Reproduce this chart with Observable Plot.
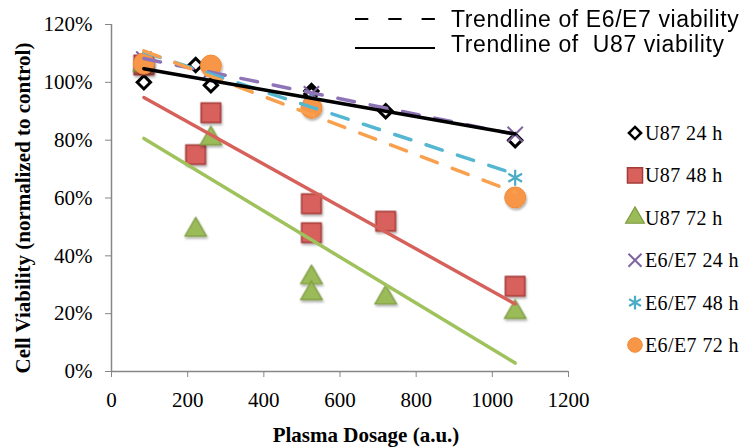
<!DOCTYPE html>
<html><head><meta charset="utf-8">
<script src="https://cdn.jsdelivr.net/npm/d3@7"></script>
<script src="https://cdn.jsdelivr.net/npm/@observablehq/plot@0.6"></script>
<style>body{margin:0;background:#fff}svg{display:block}</style>
</head><body><div id="chart"></div>
<script>
// ---- data ----
const seriesNames = ["U87 24 h", "U87 48 h", "U87 72 h", "E6/E7 24 h", "E6/E7 48 h", "E6/E7 72 h"];
const doseU87  = [85, 221, 261, 525, 525, 720, 1060];
const u87_24h  = [1.00, 1.06, 0.99, 0.97, 0.96, 0.90, 0.80];
const u87_48h  = [1.06, 0.75, 0.895, 0.58, 0.48, 0.52, 0.295];
const u87_72h  = [1.06, 0.49, 0.805, 0.325, 0.27, 0.255, 0.205];
const doseE6E7 = [85, 261, 525, 1060];
const e6e7_24h = [1.08, 1.04, 0.96, 0.82];
const e6e7_48h = [1.07, 1.06, 0.93, 0.67];
const e6e7_72h = [1.065, 1.058, 0.912, 0.602];
const xTicks = [0, 200, 400, 600, 800, 1000, 1200];
const yTicks = [0, 0.2, 0.4, 0.6, 0.8, 1.0, 1.2];
const trendLabels = ["Trendline of E6/E7 viability", "Trendline of  U87 viability"];

const rows = (xs, ys) => xs.map((x, i) => ({x, y: ys[i]}));
const s1 = rows(doseU87, u87_24h), s2 = rows(doseU87, u87_48h), s3 = rows(doseU87, u87_72h);
const s4 = rows(doseE6E7, e6e7_24h), s5 = rows(doseE6E7, e6e7_48h), s6 = rows(doseE6E7, e6e7_72h);

const serif = "'Liberation Serif','Times New Roman',serif";
const sans = "'Liberation Sans',Arial,sans-serif";
const style = [
  {symbol: "diamond2", r: 6, fill: "#fff", stroke: "#000", strokeWidth: 3},
  {symbol: "square", r: 11, fill: "#d8605d", stroke: "#a43b38", strokeWidth: 1.5},
  {symbol: "triangle", r: 8, fill: "#9bbb59", stroke: "#7d9a40", strokeWidth: 1.2},
  {symbol: "times", r: 7, fill: "none", stroke: "#8064a2", strokeWidth: 2},
  {symbol: "asterisk", r: 7.5, fill: "none", stroke: "#4bacc6", strokeWidth: 2.2},
  {symbol: "circle", r: 10.5, fill: "#f79646", stroke: "#f08a38", strokeWidth: 1}
];
const dash = "17,16";

const chart = Plot.plot({
  width: 747, height: 447,
  marginLeft: 111, marginRight: 179, marginTop: 24, marginBottom: 76,
  style: {fontFamily: serif, fontSize: "21px", color: "#000", background: "#fff"},
  x: {domain: [0, 1200]},
  y: {domain: [0, 1.2]},
  marks: [
    Plot.axisX({ticks: xTicks, tickSize: 6, tickPadding: 15, stroke: "#868686", fill: "#000", label: null, fontSize: 21, tickFormat: d => String(d)}),
    Plot.axisY({ticks: yTicks, tickSize: 6, tickPadding: 13, stroke: "#868686", fill: "#000", label: null, tickFormat: d3.format(".0%"), fontSize: 21}),
    Plot.ruleX([0], {stroke: "#868686", strokeWidth: 1.5}),
    Plot.ruleY([0], {stroke: "#868686", strokeWidth: 1.5}),
    Plot.dot(s1, {x: "x", y: "y", ...style[0]}),
    Plot.dot(s2, {x: "x", y: "y", ...style[1], className: "shadowed"}),
    Plot.dot(s3, {x: "x", y: "y", ...style[2], className: "shadowed"}),
    Plot.dot(s4, {x: "x", y: "y", ...style[3]}),
    Plot.dot(s5, {x: "x", y: "y", ...style[4]}),
    Plot.dot(s6, {x: "x", y: "y", ...style[5], className: "shadowed"}),
    Plot.linearRegressionY(s2, {x: "x", y: "y", ci: 0, stroke: "#d6605a", strokeWidth: 3.5}),
    Plot.linearRegressionY(s3, {x: "x", y: "y", ci: 0, stroke: "#9fc25c", strokeWidth: 3.5}),
    Plot.linearRegressionY(s4, {x: "x", y: "y", ci: 0, stroke: "#8e74b6", strokeWidth: 3.5, strokeDasharray: dash}),
    Plot.linearRegressionY(s5, {x: "x", y: "y", ci: 0, stroke: "#55b6d2", strokeWidth: 3.5, strokeDasharray: dash}),
    Plot.linearRegressionY(s6, {x: "x", y: "y", ci: 0, stroke: "#f9a04f", strokeWidth: 3.5, strokeDasharray: dash}),
    Plot.linearRegressionY(s1, {x: "x", y: "y", ci: 0, stroke: "#000", strokeWidth: 3.5})
  ]
});
document.getElementById("chart").appendChild(chart);

const svg = d3.select(chart);
// soft drop shadow for filled markers
const defs = svg.append("defs");
defs.append("filter").attr("id", "mshadow").attr("x", "-30%").attr("y", "-30%").attr("width", "170%").attr("height", "170%")
  .append("feDropShadow").attr("dx", 1).attr("dy", 2).attr("stdDeviation", 1.3)
  .attr("flood-color", "#000").attr("flood-opacity", 0.3);
svg.selectAll("g.shadowed").attr("filter", "url(#mshadow)");

// axis titles
svg.append("text").attr("x", 366).attr("y", 442).attr("text-anchor", "middle")
  .attr("font-family", serif).attr("font-weight", "bold").attr("font-size", 21).attr("fill", "#000")
  .text("Plasma Dosage (a.u.)");
svg.append("text").attr("transform", "translate(30,208) rotate(-90)").attr("text-anchor", "middle")
  .attr("font-family", serif).attr("font-weight", "bold").attr("font-size", 21).attr("fill", "#000")
  .text("Cell Viability (normalized to control)");

// trendline legend
const tl = svg.append("g");
tl.append("line").attr("x1", 355).attr("x2", 435).attr("y1", 19).attr("y2", 19)
  .attr("stroke", "#000").attr("stroke-width", 2).attr("stroke-dasharray", "13.3,20");
tl.append("line").attr("x1", 355).attr("x2", 435).attr("y1", 48).attr("y2", 48)
  .attr("stroke", "#000").attr("stroke-width", 2);
trendLabels.forEach((t, i) => {
  tl.append("text").attr("x", 451).attr("y", 27 + i * 25).attr("font-family", sans)
    .attr("text-anchor", "start").attr("letter-spacing", 0.6)
    .attr("font-size", 23).attr("fill", "#000").style("white-space", "pre").text(t);
});

// series legend
const lg = svg.append("g");
const symMap = {diamond2: d3.symbolDiamond2, square: d3.symbolSquare, triangle: d3.symbolTriangle,
                times: d3.symbolTimes, asterisk: d3.symbolAsterisk, circle: d3.symbolCircle};
seriesNames.forEach((name, i) => {
  const cy = 133 + i * 42.4;
  const st = style[i];
  const rr = {diamond2: 5.5, square: 8.5, triangle: 7, times: 6, asterisk: 6.5, circle: 7.3}[st.symbol];
  lg.append("path").attr("transform", `translate(635,${cy})`)
    .attr("d", d3.symbol(symMap[st.symbol], Math.PI * rr * rr)())
    .attr("fill", st.fill).attr("stroke", st.stroke).attr("stroke-width", Math.min(st.strokeWidth, 2.5));
  lg.append("text").attr("x", 645).attr("y", cy + 7).attr("font-family", serif)
    .attr("text-anchor", "start").attr("letter-spacing", 0.4)
    .attr("font-size", 20).attr("fill", "#000").text(name);
});
</script></body></html>
